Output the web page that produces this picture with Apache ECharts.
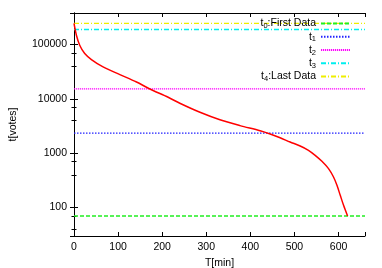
<!DOCTYPE html>
<html>
<head>
<meta charset="utf-8">
<script src="https://cdn.jsdelivr.net/npm/echarts@6/dist/echarts.min.js"></script>
<style>html,body{margin:0;padding:0;background:#fff}#c{width:382px;height:268px}</style>
</head>
<body>
<div id="c"></div>
<script>
// curve data
var timeMin = [0, 5.45, 12.95, 24.3, 39.5, 65.9, 104, 141.8, 172, 213.6, 240, 285.7, 331, 376.6, 422, 444.8, 467.5, 490.2, 513, 531.8, 547, 562.3, 577.3, 588.6, 596.4, 603.9, 611.4, 620.5];
var votes = [244000, 148400, 97100, 68200, 52900, 38700, 28000, 20400, 15200, 10700, 8300, 5660, 4120, 3220, 2590, 2260, 1925, 1607, 1357, 1131, 914, 709, 520, 365, 257, 168, 110, 70];
// horizontal reference levels
var levelNames = ['t0:First Data', 't1', 't2', 't3', 't4:Last Data'];
var levelValues = [70, 2350, 15300, 189000, 244000];
var xTicks = [0, 100, 200, 300, 400, 500, 600];
var yTicks = [100, 1000, 10000, 100000];
var xRange = [0, 660];
var yRange = [30, 380000];

var levelColors = ['#22ee22', '#2222ff', '#ff00ff', '#00eeee', '#eeee00'];
var levelDash = [[4, 2], [1.5, 1.5], [1.2, 0.8], [5, 2, 1, 2], [5, 2, 1, 2]];

var curve = timeMin.map(function (t, i) { return [t, votes[i]]; });
var series = [];
levelNames.forEach(function (n, i) {
  series.push({
    name: n, type: 'line', symbol: 'none', silent: true,
    data: [[xRange[0], levelValues[i]], [xRange[1], levelValues[i]]],
    lineStyle: { color: levelColors[i], width: 1.3, type: levelDash[i] },
    itemStyle: { color: levelColors[i] }
  });
});
series.push({
  name: 'curve', type: 'line', symbol: 'none', smooth: 0.3,
  data: curve, lineStyle: { color: '#ff0000', width: 1.5 }, z: 5
});

var font = 'Liberation Sans, Arial, sans-serif';
var axisCommon = {
  axisLine: { show: true, lineStyle: { color: '#000', width: 1 } },
  axisTick: { show: true, inside: true, length: 4, lineStyle: { color: '#000' } },
  splitLine: { show: false }
};
function isTick(list, v) {
  return list.some(function (t) { return Math.abs(t - v) / t < 1e-6; });
}
function legendLabel(name) {
  var m = /^t(\d)(.*)$/.exec(name);
  if (!m) return name;
  return '{m|t}{s|' + m[1] + '}' + (m[2] ? '{m|' + m[2] + '}' : '');
}
var chart = echarts.init(document.getElementById('c'), null, { renderer: 'canvas' });
chart.setOption({
  animation: false,
  backgroundColor: '#fff',
  grid: { left: 74, right: 17, top: 13, bottom: 32, containLabel: false, outerBoundsMode: 'none' },
  legend: {
    data: levelNames, orient: 'vertical', align: 'right',
    right: 31, top: 17, padding: 0, itemGap: 0.25,
    itemWidth: 29, itemHeight: 10,
    itemStyle: { opacity: 0 },
    formatter: legendLabel,
    textStyle: {
      fontFamily: font, fontSize: 10, color: '#000', lineHeight: 10,
      rich: {
        m: { fontFamily: font, fontSize: 10.5, color: '#000', lineHeight: 10 },
        s: { fontFamily: font, fontSize: 7.5, color: '#000', lineHeight: 5, padding: [5, 0, 0, 0] }
      }
    },
    selectedMode: false
  },
  xAxis: [
    Object.assign({}, axisCommon, {
      type: 'value', min: xRange[0], max: xRange[1], interval: 100, position: 'bottom',
      name: 'T[min]', nameLocation: 'middle', nameGap: 19,
      nameTextStyle: { fontFamily: font, fontSize: 10.5, color: '#000' },
      axisLabel: { fontFamily: font, fontSize: 10.5, color: '#000', margin: 6,
        formatter: function (v) { return xTicks.indexOf(v) >= 0 ? String(v) : ''; } }
    }),
    Object.assign({}, axisCommon, {
      type: 'value', min: xRange[0], max: xRange[1], interval: 100, position: 'top',
      axisLabel: { show: false }
    })
  ],
  yAxis: [
    Object.assign({}, axisCommon, {
      type: 'log', logBase: 10, min: yRange[0], max: yRange[1], position: 'left',
      name: 't[votes]', nameLocation: 'middle', nameGap: 55,
      nameTextStyle: { fontFamily: font, fontSize: 10.5, color: '#000' },
      minorTick: { show: true, splitNumber: 3, length: 2.5, lineStyle: { color: '#000' } },
      axisLabel: { fontFamily: font, fontSize: 10.5, color: '#000', margin: 7,
        showMinLabel: false, showMaxLabel: false,
        formatter: function (v) { return isTick(yTicks, v) ? String(Math.round(v)) : ''; } }
    }),
    Object.assign({}, axisCommon, {
      type: 'log', logBase: 10, min: yRange[0], max: yRange[1], position: 'right',
      minorTick: { show: true, splitNumber: 3, length: 2.5, lineStyle: { color: '#000' } },
      axisLabel: { show: false }
    })
  ],
  series: series
});
</script>
</body>
</html>
